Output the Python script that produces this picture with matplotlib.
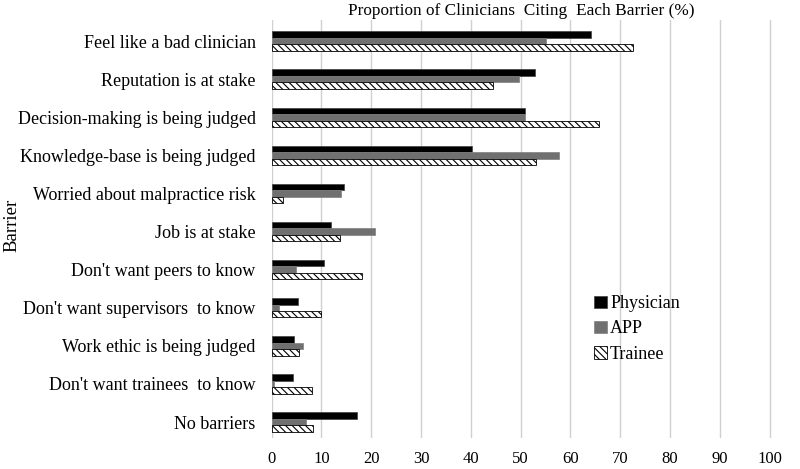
import matplotlib.pyplot as plt
import numpy as np

plt.rcParams['font.family'] = ['Liberation Serif', 'DejaVu Serif']
plt.rcParams['font.size'] = 12
plt.rcParams['hatch.linewidth'] = 0.8

barriers = ['Feel like a bad clinician', 'Reputation is at stake',
            'Decision-making is being judged', 'Knowledge-base is being judged',
            'Worried about malpractice risk', 'Job is at stake',
            "Don't want peers to know", "Don't want supervisors  to know",
            'Work ethic is being judged', "Don't want trainees  to know",
            'No barriers']
physician = [64.2, 52.8, 50.9, 40.3, 14.5, 11.9, 10.5, 5.2, 4.5, 4.3, 17.2]
app = [55.1, 49.7, 50.9, 57.7, 13.9, 20.8, 4.9, 1.5, 6.3, 0.4, 6.9]
trainee = [72.5, 44.4, 65.7, 53.0, 2.3, 13.7, 18.1, 10.0, 5.5, 8.0, 8.3]
xticks = list(range(0, 101, 10))


def main():
    fig = plt.figure(figsize=(8, 4.69), dpi=100)
    ax = fig.add_axes([0.3396, 0.066, 0.625, 0.891])
    y = np.arange(len(barriers))
    h = 0.17
    ax.barh(y - h, physician, h, color='black', edgecolor='#404040', lw=0.5, label='Physician', zorder=3)
    ax.barh(y, app, h, color='#707070', edgecolor='#808080', lw=0.5, label='APP', zorder=3)
    ax.barh(y + h, trainee, h, color='white', edgecolor='black', hatch='\\\\\\\\\\', lw=0.6,
            label='Trainee', zorder=3)

    ax.set_yticks(y)
    ax.set_yticklabels(barriers, fontsize=13)
    ax.set_ylim(10.42, -0.55)
    ax.set_xlim(0, 100.4)
    ax.set_xticks(xticks)
    ax.tick_params(axis='y', length=0, pad=11.5)
    ax.tick_params(axis='x', length=0, pad=9, labelsize=12)
    ax.grid(axis='x', color='#d0d0d0', lw=1, zorder=0)
    for s in ax.spines.values():
        s.set_visible(False)

    ax.set_ylabel('Barrier', fontsize=13.5)
    ax.yaxis.set_label_coords(0.026, 0.52, transform=fig.transFigure)
    ax.set_title('Proportion of Clinicians  Citing  Each Barrier (%)', pad=4, fontsize=12.4)
    ax.legend(loc='center left', bbox_to_anchor=(0.612, 0.261), frameon=False, fontsize=13,
              handlelength=0.7, handleheight=0.7, handletextpad=0.2, labelspacing=0.45)

    plt.savefig('out.png', dpi=100)
    plt.close()


if __name__ == '__main__':
    main()
